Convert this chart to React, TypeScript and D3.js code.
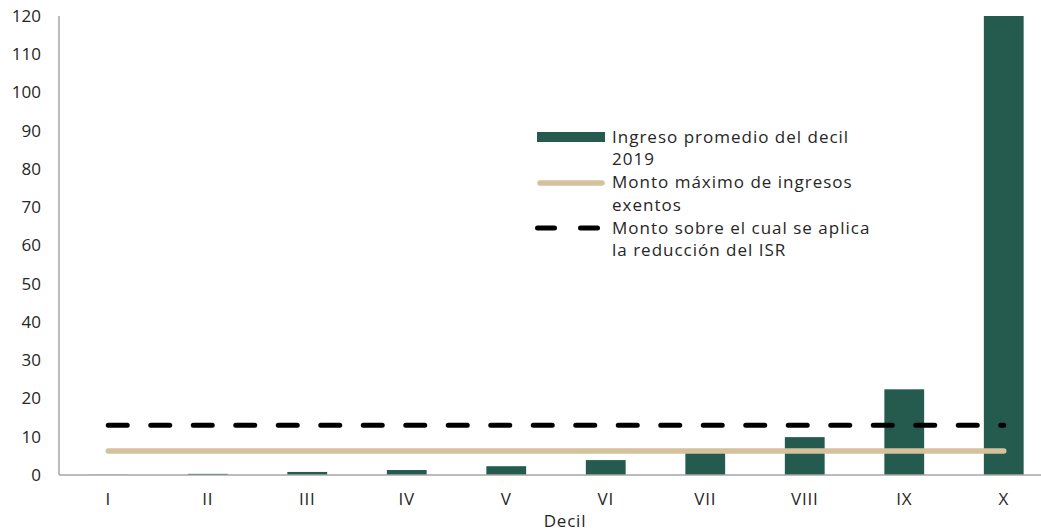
import React from 'react';
import * as d3 from 'd3';

const categories = ['I', 'II', 'III', 'IV', 'V', 'VI', 'VII', 'VIII', 'IX', 'X'];
const ingresoPromedio = [0.05, 0.3, 0.8, 1.3, 2.3, 3.9, 6.4, 9.9, 22.4, 135];
const montoExento = 6.3;
const montoReduccion = 13.0;
const yTicks = [0, 10, 20, 30, 40, 50, 60, 70, 80, 90, 100, 110, 120];
const legendLabels = [
  ['Ingreso promedio del decil', '2019'],
  ['Monto máximo de ingresos', 'exentos'],
  ['Monto sobre el cual se aplica', 'la reducción del ISR'],
];

const W = 1041;
const H = 531;
const FONT = "'Open Sans', sans-serif";
const GREEN = '#245b4e';
const BEIGE = '#d5c19b';

export default function App() {
  const x = d3.scaleBand<string>().domain(categories).range([58.5, 1053.5]).paddingInner(0.6).paddingOuter(0.3);
  const xc = (c: string) => (x(c) as number) + x.bandwidth() / 2;
  const y = d3.scaleLinear().domain([0, 120]).range([475, 16]).clamp(true);
  const first = xc(categories[0]);
  const last = xc(categories[categories.length - 1]);

  return (
    <svg width={W} height={H} style={{ position: 'absolute', left: 0, top: 0, background: '#fff' }} fontFamily={FONT}>
      {/* bars */}
      {categories.map((c, i) => (
        <rect key={c} x={x(c)} y={y(ingresoPromedio[i])} width={x.bandwidth()} height={475 - y(ingresoPromedio[i])} fill={GREEN} />
      ))}
      {/* axes */}
      <line x1={59} x2={W} y1={475} y2={475} stroke="#a6a6a6" strokeWidth={1.5} />
      <line x1={59} x2={59} y1={16} y2={475} stroke="#a6a6a6" strokeWidth={1.5} />
      {/* lines */}
      <line x1={first} x2={last} y1={y(montoExento)} y2={y(montoExento)} stroke={BEIGE} strokeWidth={5.5} strokeLinecap="round" />
      <line x1={first} x2={last} y1={y(montoReduccion)} y2={y(montoReduccion)} stroke="#000" strokeWidth={5} strokeLinecap="round" strokeDasharray="19 23.5" />
      {/* y ticks */}
      {yTicks.map((t) => (
        <text key={t} x={41} y={y(t)} dy="0.35em" textAnchor="end" fontSize={17} fill="#262626">{t}</text>
      ))}
      {/* x ticks */}
      {categories.map((c) => (
        <text key={c} x={xc(c)} y={499} dy="0.35em" textAnchor="middle" fontSize={17} fill="#262626" letterSpacing={0.8}>{c}</text>
      ))}
      <text x={565} y={521} dy="0.35em" textAnchor="middle" fontSize={17} fill="#262626" letterSpacing={0.8}>Decil</text>
      {/* legend */}
      <rect x={537} y={132} width={68} height={10} fill={GREEN} />
      <line x1={540} x2={602} y1={183} y2={183} stroke={BEIGE} strokeWidth={5.5} strokeLinecap="round" />
      <line x1={537.5} x2={598} y1={228} y2={228} stroke="#000" strokeWidth={5} strokeLinecap="round" strokeDasharray="17 26" />
      {legendLabels.map((lines, i) => (
        <text key={i} fontSize={17} fill="#262626" letterSpacing={1}>
          {lines.map((l, j) => (
            <tspan key={j} x={612} y={137 + i * 45.5 + j * 22.5} dy="0.35em">{l}</tspan>
          ))}
        </text>
      ))}
    </svg>
  );
}
